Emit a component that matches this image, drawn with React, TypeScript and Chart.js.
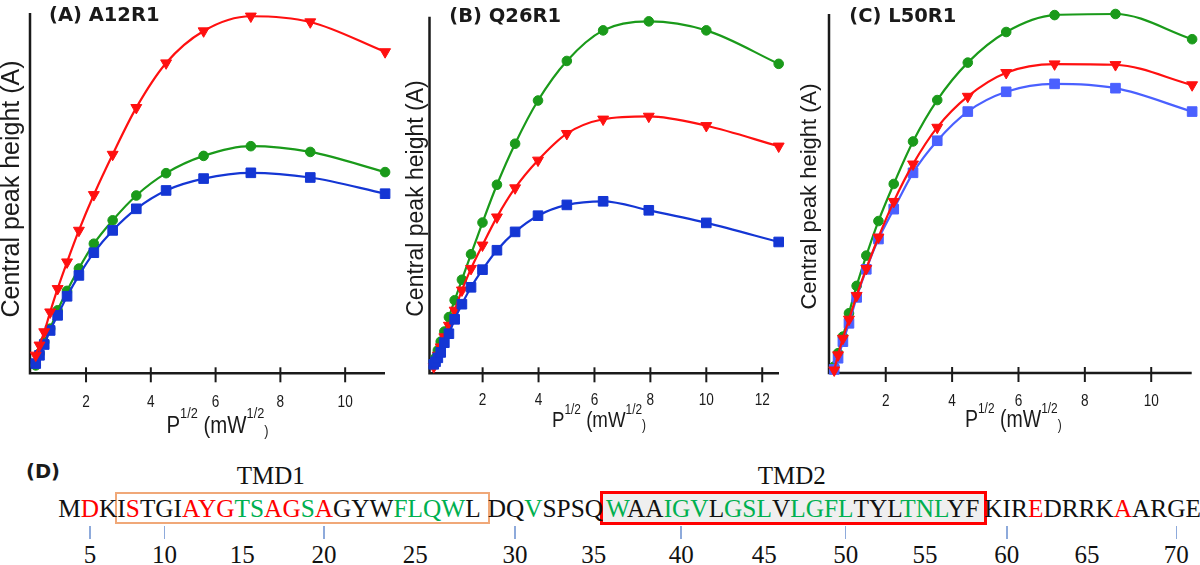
import React, { useEffect, useRef } from "react";
import { Chart, registerables } from "chart.js";

Chart.register(...registerables);

// ---------------- data ----------------
// x values: P^(1/2) in mW^(1/2)
const xA = [0.447, 0.563, 0.709, 0.892, 1.123, 1.414, 1.78, 2.241, 2.822, 3.552, 4.472, 5.63, 7.088, 8.923, 11.233];
const redA = [5.0, 7.8, 11.5, 17.0, 23.5, 30.9, 39.7, 49.6, 60.8, 73.8, 86.2, 95.1, 99.2, 97.6, 89.3];
const greenA = [2.2, 5.5, 8.7, 12.4, 17.5, 22.9, 29.1, 36.0, 42.5, 49.4, 55.6, 60.4, 63.1, 61.5, 55.9];
const blueA = [2.7, 5.0, 8.0, 11.9, 16.1, 21.4, 27.2, 33.5, 39.7, 45.7, 50.8, 54.1, 55.7, 54.4, 49.9];

const xB = [0.251, 0.316, 0.398, 0.501, 0.631, 0.794, 1.0, 1.259, 1.585, 1.995, 2.512, 3.162, 3.981, 5.012, 6.31, 7.943, 10.0, 12.589];
const greenB = [2.8, 4.3, 6.4, 8.8, 11.6, 15.6, 20.3, 26.0, 33.1, 41.9, 52.4, 63.8, 75.8, 86.8, 95.3, 97.8, 95.3, 86.0];
const redB = [1.8, 3.1, 5.0, 7.3, 10.1, 13.3, 17.5, 23.1, 29.1, 35.6, 43.4, 51.5, 59.2, 66.6, 70.6, 71.4, 68.8, 63.1];
const blueB = [2.5, 3.2, 4.3, 5.8, 8.5, 11.0, 15.0, 19.2, 23.9, 28.8, 34.2, 39.3, 43.8, 46.8, 47.8, 45.3, 41.8, 36.5];

const xC = [0.447, 0.563, 0.709, 0.892, 1.123, 1.414, 1.78, 2.241, 2.822, 3.552, 4.472, 5.63, 7.088, 8.923, 11.233];
const greenC = [1.8, 5.5, 10.1, 16.6, 24.2, 32.6, 42.2, 52.5, 64.3, 75.8, 86.2, 94.7, 99.4, 99.7, 92.7];
const redC = [0.8, 5.0, 9.6, 14.9, 21.5, 29.0, 37.7, 47.6, 58.0, 68.2, 76.8, 83.4, 85.8, 85.6, 80.0];
const blueC = [1.0, 4.1, 8.7, 13.8, 21.0, 28.8, 37.2, 45.5, 55.6, 64.5, 72.6, 78.1, 80.3, 79.1, 72.6];

const ticksA = [2, 4, 6, 8, 10];
const ticksB = [2, 4, 6, 8, 10, 12];
const ticksC = [2, 4, 6, 8, 10];

const titles = ["(A) A12R1", "(B) Q26R1", "(C) L50R1"];
const yAxisTitle = "Central peak height (A)";

// sequence panel
const sequence = "MDKISTGIAYGTSAGSAGYWFLQWLDQVSPSQWAAIGVLGSLVLGFLTYLTNLYFKIREDRRKAARGE";
const residueColorCodes = "krkkrkkkrrrggrrgrkkkggggkkkgkkkkgkkgggkgggkggggkkkgggkkkkkrkkkkrkkkk";
const firstResidue = 4;
const numberLabels = [5, 10, 15, 20, 25, 30, 35, 40, 45, 50, 55, 60, 65, 70];
const tickResidues = [5, 10, 20, 30, 40, 50, 60, 70];
const tmd1Range = [7, 28];
const tmd2Range = [36, 58];

// ---------------- styles ----------------
const SANS = '"Liberation Sans", Arial, sans-serif';
const SERIF = '"Liberation Serif", "Times New Roman", serif';
const BOLD_SANS = '"DejaVu Sans", sans-serif';
const AXIS = "#1a1a1a";
const RED = "#ff1010";
const GREEN = "#1a9a1a";
const BLUE = "#1436d4";
const BLUE_LIGHT = "#4a60ff";
const SEQ_COLORS: Record<string, string> = { k: "#111111", r: "#ff0000", g: "#00b050" };

const MARKERS: Record<string, any> = {
  tri: { pointStyle: "triangle", pointRotation: 180, pointRadius: 6.3 },
  circ: { pointStyle: "circle", pointRotation: 0, pointRadius: 4.8 },
  sq: { pointStyle: "rect", pointRotation: 0, pointRadius: 6.8 },
};

const panels = [
  {
    title: titles[0], left: 0, x: xA,
    series: [
      { y: redA, color: RED, marker: "tri" },
      { y: blueA, color: BLUE, marker: "sq" },
      { y: greenA, color: GREEN, marker: "circ" },
    ],
    xMin: 0.27, xMax: 11.23, yMax: 100.1, ticks: ticksA,
    padding: { left: 30, right: 15, top: 13, bottom: 71.7 },
    titlePos: { x: 49, y: 20.7 },
    yTitle: { size: 25, x: 19, y: 189 },
    xTitle: { size: 24, cx: 217.5, y: 433 },
    tickLabelY: 407,
  },
  {
    title: titles[1], left: 400, x: xB,
    series: [
      { y: blueB, color: BLUE, marker: "sq" },
      { y: redB, color: RED, marker: "tri" },
      { y: greenB, color: GREEN, marker: "circ" },
    ],
    xMin: 0.1, xMax: 12.6, yMax: 99.1, ticks: ticksB,
    padding: { left: 29.5, right: 21, top: 16.7, bottom: 71.7 },
    titlePos: { x: 49.3, y: 21.5 },
    yTitle: { size: 23, x: 23.2, y: 198.5 },
    xTitle: { size: 22, cx: 199, y: 427.3 },
    tickLabelY: 405,
  },
  {
    title: titles[2], left: 800, x: xC,
    series: [
      { y: redC, color: RED, marker: "tri" },
      { y: blueC, color: BLUE_LIGHT, marker: "sq" },
      { y: greenC, color: GREEN, marker: "circ" },
    ],
    xMin: 0.29, xMax: 11.22, yMax: 99.7, ticks: ticksC,
    padding: { left: 29, right: 8.3, top: 14, bottom: 72 },
    titlePos: { x: 49.3, y: 21.5 },
    yTitle: { size: 22, x: 16, y: 196.5 },
    xTitle: { size: 23, cx: 213.3, y: 427.3 },
    tickLabelY: 406,
  },
];

function drawCondensed(ctx: CanvasRenderingContext2D, t: string, x: number, y: number, sx: number) {
  ctx.save();
  ctx.translate(x, y);
  ctx.scale(sx, 1);
  ctx.fillText(t, 0, 0);
  ctx.restore();
}

function makeDecor(cfg: any) {
  return {
    id: "decor",
    beforeDatasetsDraw(chart: any) {
      const { ctx, chartArea: a } = chart;
      const xs = chart.scales.x;
      ctx.save();
      // axes
      ctx.strokeStyle = AXIS;
      ctx.lineWidth = 2.5;
      ctx.beginPath();
      ctx.moveTo(a.left, a.top);
      ctx.lineTo(a.left, a.bottom);
      ctx.lineTo(a.right, a.bottom);
      ctx.stroke();
      ctx.lineWidth = 2;
      cfg.ticks.forEach((v: number) => {
        const px = xs.getPixelForValue(v);
        ctx.beginPath();
        ctx.moveTo(px, a.bottom - 6);
        ctx.lineTo(px, a.bottom + 9);
        ctx.stroke();
      });
      // tick labels
      ctx.fillStyle = AXIS;
      ctx.font = `16px ${SANS}`;
      ctx.textAlign = "center";
      ctx.textBaseline = "alphabetic";
      cfg.ticks.forEach((v: number) => {
        drawCondensed(ctx, String(v), xs.getPixelForValue(v), cfg.tickLabelY, 0.85);
      });
      // x title with superscripts
      const sx = 0.85;
      const big = `${cfg.xTitle.size}px ${SANS}`;
      const small = `${Math.round(cfg.xTitle.size * 0.63)}px ${SANS}`;
      const supDy = -cfg.xTitle.size * 0.62;
      const segs = [
        { t: "P", f: big, dy: 0 },
        { t: "1/2", f: small, dy: supDy },
        { t: " (mW", f: big, dy: 0 },
        { t: "1/2", f: small, dy: supDy },
        { t: ")", f: small, dy: 3 },
      ];
      ctx.textAlign = "left";
      let total = 0;
      const widths = segs.map((s) => {
        ctx.font = s.f;
        const w = ctx.measureText(s.t).width * sx;
        total += w;
        return w;
      });
      let cx = cfg.xTitle.cx - total / 2;
      segs.forEach((s, i) => {
        ctx.font = s.f;
        drawCondensed(ctx, s.t, cx, cfg.xTitle.y + s.dy, sx);
        cx += widths[i];
      });
      // y title
      ctx.save();
      ctx.font = `${cfg.yTitle.size}px ${SANS}`;
      ctx.textAlign = "center";
      ctx.translate(cfg.yTitle.x, cfg.yTitle.y);
      ctx.rotate(-Math.PI / 2);
      ctx.fillText(yAxisTitle, 0, 0);
      ctx.restore();
      // panel title
      ctx.font = `bold 19.5px ${BOLD_SANS}`;
      ctx.textAlign = "left";
      ctx.fillText(cfg.title, cfg.titlePos.x, cfg.titlePos.y);
      ctx.restore();
    },
  };
}

function Panel({ cfg }: { cfg: any }) {
  const ref = useRef<HTMLCanvasElement>(null);
  useEffect(() => {
    if (!ref.current) return;
    const datasets = cfg.series.map((s: any) => ({
      data: cfg.x.map((x: number, i: number) => ({ x, y: s.y[i] })),
      showLine: true,
      borderColor: s.color,
      backgroundColor: s.color,
      borderWidth: 2.2,
      pointBackgroundColor: s.color,
      pointBorderColor: s.color,
      pointBorderWidth: 1,
      cubicInterpolationMode: "monotone",
      clip: false,
      ...MARKERS[s.marker],
    }));
    const chart = new Chart(ref.current, {
      type: "scatter",
      data: { datasets },
      options: {
        animation: false,
        responsive: false,
        devicePixelRatio: 1,
        events: [],
        layout: { padding: cfg.padding },
        scales: {
          x: { type: "linear", display: false, min: cfg.xMin, max: cfg.xMax },
          y: { type: "linear", display: false, min: 0, max: cfg.yMax },
        },
        plugins: { legend: { display: false }, tooltip: { enabled: false } },
      },
      plugins: [makeDecor(cfg)],
    } as any);
    return () => chart.destroy();
  }, [cfg]);
  return (
    <div style={{ position: "absolute", left: cfg.left, top: 0, width: 400, height: 445 }}>
      <canvas ref={ref} width={400} height={445} style={{ display: "block" }} />
    </div>
  );
}

function Residue({ i }: { i: number }) {
  const num = firstResidue + i;
  return (
    <span style={{ position: "relative", color: SEQ_COLORS[residueColorCodes[i]] }}>
      {sequence[i]}
      {tickResidues.includes(num) && (
        <span
          style={{
            position: "absolute", left: "50%", top: 32, width: 1.5, height: 13,
            marginLeft: -0.75, background: "#8eaadb",
          }}
        />
      )}
      {numberLabels.includes(num) && (
        <span
          style={{
            position: "absolute", left: "50%", top: 47, transform: "translateX(-50%)",
            color: "#111111", whiteSpace: "nowrap", fontSize: 25,
          }}
        >
          {num}
        </span>
      )}
    </span>
  );
}

function SequencePanel() {
  const idx = (r: number) => r - firstResidue;
  const range = (a: number, b: number) => {
    const out = [];
    for (let i = a; i < b; i++) out.push(<Residue key={i} i={i} />);
    return out;
  };
  const n = sequence.length;
  const serif = { fontFamily: SERIF, fontSize: 25, lineHeight: "28px", whiteSpace: "nowrap" as const };
  return (
    <>
      <div
        style={{
          position: "absolute", left: 26, top: 459.75, fontFamily: BOLD_SANS, fontWeight: "bold",
          fontSize: 19.5, lineHeight: "24px", color: AXIS, whiteSpace: "nowrap",
        }}
      >
        (D)
      </div>
      <div style={{ position: "absolute", left: 236.7, top: 461.6, color: "#111111", ...serif }}>TMD1</div>
      <div style={{ position: "absolute", left: 757.7, top: 461.6, color: "#111111", ...serif }}>TMD2</div>
      <div style={{ position: "absolute", left: 58.3, top: 493.6, ...serif, fontSize: 25.3 }}>
        {range(0, idx(tmd1Range[0]))}
        <span
          style={{
            border: "2px solid #f0a878", marginLeft: -2, marginRight: -2, paddingRight: 7,
          }}
        >
          {range(idx(tmd1Range[0]), idx(tmd1Range[1]) + 1)}
        </span>
        {range(idx(tmd1Range[1]) + 1, idx(tmd2Range[0]))}
        <span
          style={{
            border: "3px solid #ff0000", marginLeft: -3, marginRight: -3, paddingLeft: 3,
            paddingRight: 5, background: "#efefef",
          }}
        >
          {range(idx(tmd2Range[0]), idx(tmd2Range[1]) + 1)}
        </span>
        {range(idx(tmd2Range[1]) + 1, n)}
      </div>
    </>
  );
}

export default function App() {
  return (
    <div
      style={{
        position: "fixed", left: 0, top: 0, width: 1200, height: 565,
        background: "#ffffff", overflow: "hidden",
      }}
    >
      {panels.map((p, i) => (
        <Panel key={i} cfg={p} />
      ))}
      <SequencePanel />
    </div>
  );
}
